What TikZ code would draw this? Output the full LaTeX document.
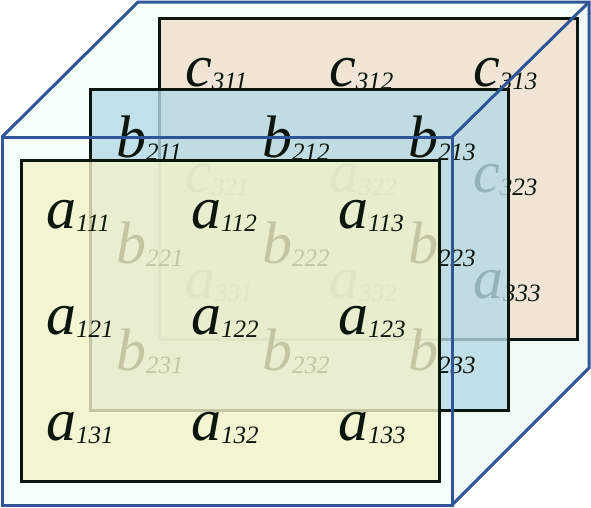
\documentclass[tikz,border=0pt]{standalone}
\usepackage{fontspec}
\setmainfont{Liberation Serif}
\usetikzlibrary{positioning}
\definecolor{edge}{RGB}{46,85,151}
\definecolor{ink}{RGB}{12,22,14}
\definecolor{mint}{RGB}{245,255,250}
\definecolor{mintside}{RGB}{240,249,243}
\definecolor{tan}{RGB}{240,229,212}
\definecolor{sky}{RGB}{182,217,230}
\definecolor{cream}{RGB}{242,242,201}
\tikzset{
  face/.style={draw=ink, line width=3pt, anchor=north west, inner sep=0pt,
               minimum width=418pt, minimum height=321pt},
  entry/.style={anchor=base west, inner sep=0pt, text=ink},
  rim/.style={draw=edge, line width=3pt, line join=miter},
}
\newcommand{\tel}[2]{{\fontsize{60}{60}\selectfont\itshape #1}\raisebox{-3pt}{\fontsize{25}{25}\selectfont\itshape #2}}

\begin{document}
\begin{tikzpicture}[x=1pt,y=-1pt]
    \useasboundingbox (0,0) rectangle (591,507);
    % cube corners
    \coordinate (f1) at (2,137);
    \coordinate (f2) at (452,137);
    \coordinate (f3) at (452,505);
    \coordinate (b1) at (138,2);
    \coordinate (b2) at (589,2);
    \coordinate (b3) at (589,368);
    \fill[mint] (f1) -- (b1) -- (b2) -- (b3) -- (f3) -- (2,505) -- cycle;
    \fill[mintside] (f2) -- (b2) -- (b3) -- (f3) -- cycle;
    % third slice
    \node[face, fill=tan] (cface) at (158,17) {};
    \node[entry] (c311) at (185,86)  {\tel{c}{311}};
    \node[entry] (c312) at (329,86)  {\tel{c}{312}};
    \node[entry] (c313) at (473,86)  {\tel{c}{313}};
    \node[entry] (c321) at (185,192) {\tel{c}{321}};
    \node[entry] (c322) at (329,192) {\tel{a}{322}};
    \node[entry] (c323) at (473,192) {\tel{c}{323}};
    \node[entry] (c331) at (185,298) {\tel{a}{331}};
    \node[entry] (c332) at (329,298) {\tel{a}{332}};
    \node[entry] (c333) at (473,298) {\tel{a}{333}};
    % second slice
    \node[face, fill=sky, fill opacity=0.8] (bface) at (89,88) {};
    \node[entry] (b211) at (116,157) {\tel{b}{211}};
    \node[entry] (b212) at (262,157) {\tel{b}{212}};
    \node[entry] (b213) at (408,157) {\tel{b}{213}};
    \node[entry] (b221) at (116,263) {\tel{b}{221}};
    \node[entry] (b222) at (262,263) {\tel{b}{222}};
    \node[entry] (b223) at (408,263) {\tel{b}{223}};
    \node[entry] (b231) at (116,370) {\tel{b}{231}};
    \node[entry] (b232) at (262,370) {\tel{b}{232}};
    \node[entry] (b233) at (408,370) {\tel{b}{233}};
    % first slice
    \node[face, fill=cream, fill opacity=0.8] (aface) at (20,159) {};
    \node[entry] (a111) at (46,228)  {\tel{a}{111}};
    \node[entry] (a112) at (191,228) {\tel{a}{112}};
    \node[entry] (a113) at (338,228) {\tel{a}{113}};
    \node[entry] (a121) at (46,334)  {\tel{a}{121}};
    \node[entry] (a122) at (191,334) {\tel{a}{122}};
    \node[entry] (a123) at (338,334) {\tel{a}{123}};
    \node[entry] (a131) at (46,440)  {\tel{a}{131}};
    \node[entry] (a132) at (191,440) {\tel{a}{132}};
    \node[entry] (a133) at (338,440) {\tel{a}{133}};
    % cube edges
    \draw[rim] (f1) rectangle (f3);
    \draw[rim] (f1) -- (b1) -- (b2) -- (b3) -- (f3);
    \draw[rim] (f2) -- (b2);
\end{tikzpicture}
\end{document}
